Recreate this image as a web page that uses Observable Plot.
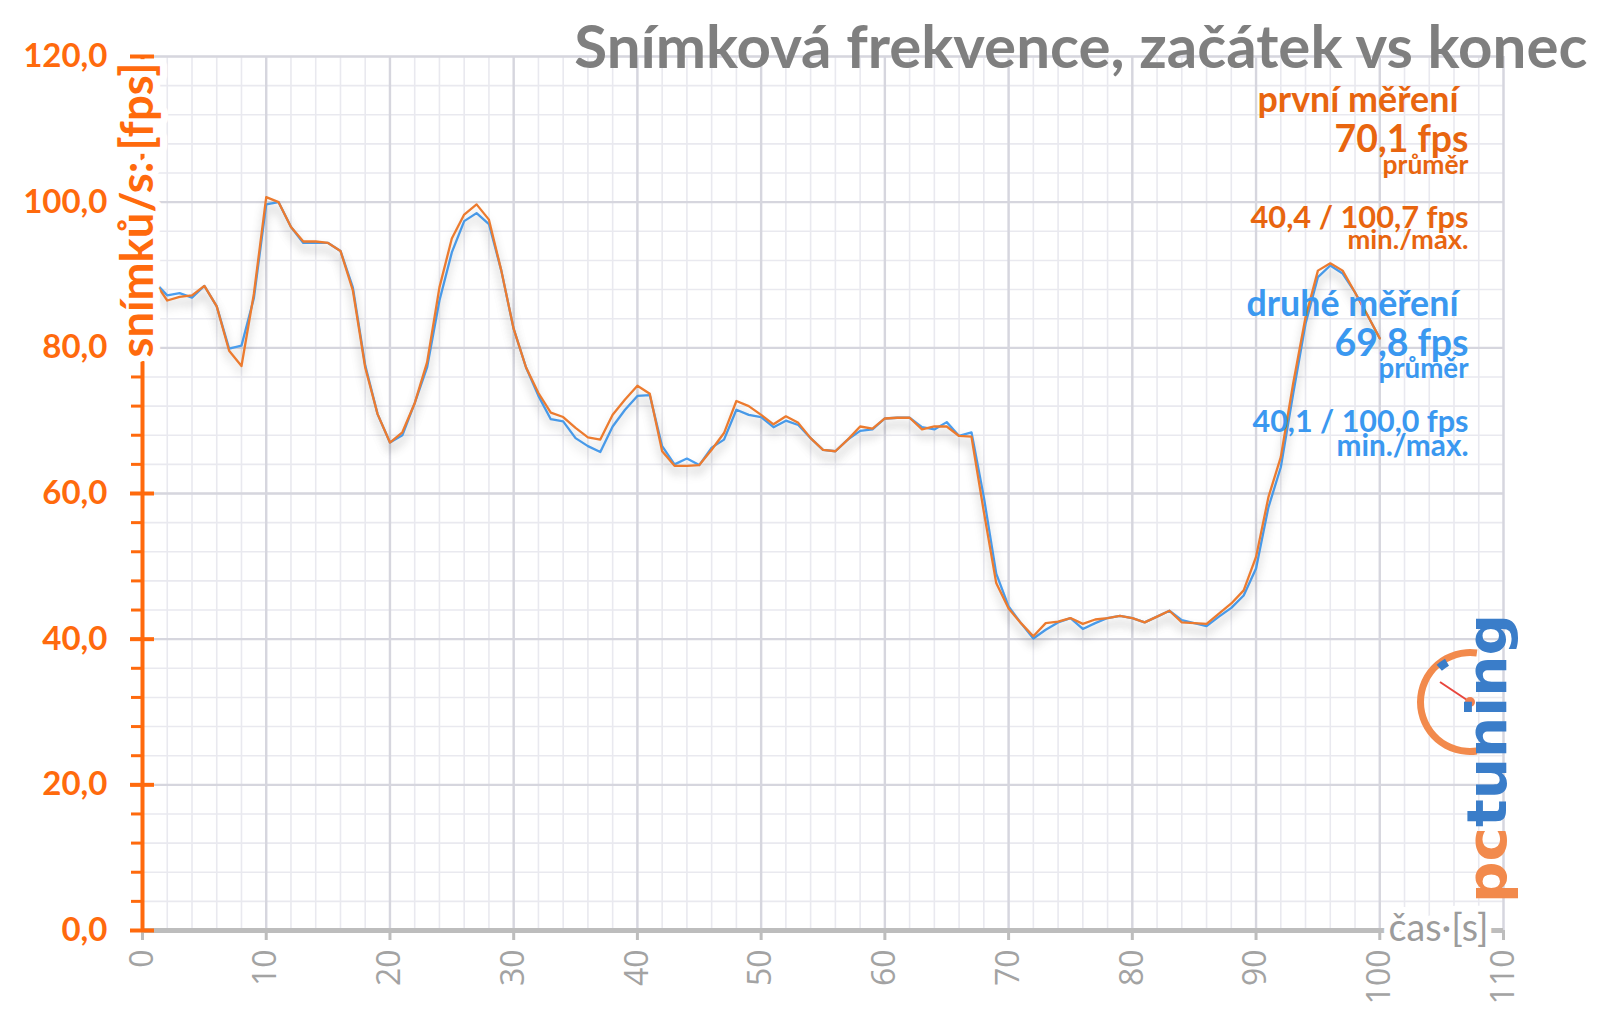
<!DOCTYPE html>
<html>
<head>
<meta charset="utf-8">
<script src="https://cdn.jsdelivr.net/npm/d3@7"></script>
<script src="https://cdn.jsdelivr.net/npm/@observablehq/plot@0.6"></script>
<style>
  html, body { margin: 0; padding: 0; background: #ffffff; }
  #chart svg { display: block; }
</style>
</head>
<body>
<div id="chart"></div>
<script>
// ---------- data ----------
const seconds = [1,2,3,4,5,6,7,8,9,10,11,12,13,14,15,16,17,18,19,20,
  21,22,23,24,25,26,27,28,29,30,31,32,33,34,35,36,37,38,39,40,
  41,42,43,44,45,46,47,48,49,50,51,52,53,54,55,56,57,58,59,60,
  61,62,63,64,65,66,67,68,69,70,71,72,73,74,75,76,77,78,79,80,
  81,82,83,84,85,86,87,88,89,90,91,92,93,94,95,96,97,98,99,100];

// první měření (orange)
const firstRun = [89.0,86.5,87.0,87.2,88.5,85.7,79.6,77.5,87.4,100.7,
  100.0,96.6,94.6,94.6,94.4,93.3,87.9,77.3,70.9,67.0,
  68.4,72.4,78.0,88.3,95.0,98.3,99.7,97.6,90.6,82.6,
  77.3,73.8,71.1,70.5,69.0,67.7,67.4,70.8,72.9,74.8,
  73.7,65.8,63.8,63.8,63.9,66.0,68.3,72.7,72.0,70.8,
  69.5,70.6,69.7,67.6,66.0,65.8,67.4,69.2,68.9,70.3,
  70.4,70.4,68.8,69.2,69.2,67.9,67.8,57.5,47.7,44.2,
  42.2,40.4,42.2,42.4,42.9,42.1,42.7,42.9,43.2,42.9,
  42.3,43.1,43.9,42.3,42.2,42.1,43.5,44.9,46.7,51.3,
  59.5,65.0,75.1,84.2,90.6,91.6,90.6,87.6,84.5,81.3];

// druhé měření (blue)
const secondRun = [89.0,87.2,87.5,86.9,88.5,85.7,79.9,80.3,86.8,99.7,
  100.0,96.6,94.4,94.4,94.4,93.3,88.3,77.6,70.9,67.0,
  68.0,72.4,77.3,86.5,93.1,97.4,98.5,97.0,90.6,82.6,
  77.3,73.4,70.2,69.9,67.6,66.5,65.7,69.2,71.5,73.4,
  73.5,66.5,64.0,64.8,63.9,66.3,67.4,71.5,70.8,70.5,
  69.1,70.0,69.4,67.6,66.0,65.8,67.4,68.6,68.8,70.3,
  70.4,70.4,69.1,68.8,69.8,67.9,68.4,59.5,49.0,44.5,
  42.2,40.1,41.3,42.3,42.9,41.4,42.2,42.9,43.2,42.9,
  42.3,43.1,43.9,42.6,42.2,41.8,43.1,44.3,46.0,49.7,
  58.1,63.6,73.7,83.3,89.7,91.3,90.2,87.6,84.5,81.3];

const xMajorTicks = [0,10,20,30,40,50,60,70,80,90,100,110];
const xMinorTicks = [0,2,4,6,8,10,12,14,16,18,20,22,24,26,28,30,32,34,36,38,40,42,44,46,48,50,
  52,54,56,58,60,62,64,66,68,70,72,74,76,78,80,82,84,86,88,90,92,94,96,98,100,102,104,106,108,110];
const yMajorTicks = [0,20,40,60,80,100,120];
const yMinorTicks = [0,4,8,12,16,20,24,28,32,36,40,44,48,52,56,60,64,68,72,76,80,84,88,92,96,100,104,108,112,116,120];

const chartTitle = "Snímková frekvence, začátek vs konec";
const yTitle = "snímků/s: [fps]";
const xTitle = "čas·[s]";
const legendFirst = ["první měření", "70,1 fps", "průměr", "40,4 / 100,7 fps", "min./max."];
const legendSecond = ["druhé měření", "69,8 fps", "průměr", "40,1 / 100,0 fps", "min./max."];
const logoParts = ["pc", "tuning"];

// ---------- styling ----------
const ORANGE_AXIS = "#ff6a0d";
const ORANGE_TEXT = "#e8650f";
const BLUE_TEXT = "#3a98f0";
const ORANGE_LINE = "#ec7b2f";
const BLUE_LINE = "#4b9ff0";
const FONT = "Lato, 'Open Sans', sans-serif";

const rowsFirst = seconds.map((t, i) => ({t, v: firstRun[i]}));
const rowsSecond = seconds.map((t, i) => ({t, v: secondRun[i]}));
const fmtY = d => d.toFixed(1).replace(".", ",");

// legend layout (baseline offsets below frame top, sizes)
const legendLayout = [
  {size: 32, base: 111, shift: -10},
  {size: 40, base: 151, shift: 0},
  {size: 27, base: 173, shift: 0},
  {size: 30, base: 227, shift: 0},
  {size: 27, base: 248, shift: 0}
];
const secondBases = [315, 355, 377, 431, 455];
const MT = 56, RIGHT = 1503;

function legendMarks(lines, color, bases) {
  return lines.map((s, i) => Plot.text([s], {
    text: d => d,
    frameAnchor: "top-right",
    textAnchor: "end",
    lineAnchor: "bottom",
    dx: (1468 - RIGHT) + legendLayout[i].shift,
    dy: bases[i] - MT,
    fontSize: legendLayout[i].size,
    fontWeight: "bold",
    fontFamily: FONT,
    fill: color
  }));
}

const chart = Plot.plot({
  width: 1600,
  height: 1015,
  marginLeft: 142,
  marginRight: 97,
  marginTop: 56,
  marginBottom: 85,
  style: {fontFamily: FONT, background: "#ffffff", overflow: "visible"},
  x: {domain: [0, 110], label: null},
  y: {domain: [0, 120], label: null},
  marks: [
    Plot.gridX({ticks: xMinorTicks, stroke: "#e9e9ef", strokeOpacity: 1, strokeWidth: 1.6}),
    Plot.gridY({ticks: yMinorTicks, stroke: "#e9e9ef", strokeOpacity: 1, strokeWidth: 1.6}),
    Plot.gridX({ticks: xMajorTicks, stroke: "#d6d6de", strokeOpacity: 1, strokeWidth: 2.4}),
    Plot.gridY({ticks: yMajorTicks, stroke: "#d6d6de", strokeOpacity: 1, strokeWidth: 2.4}),
    Plot.line(rowsSecond, {x: "t", y: "v", stroke: BLUE_LINE, strokeWidth: 2.3}),
    Plot.line(rowsFirst, {x: "t", y: "v", stroke: ORANGE_LINE, strokeWidth: 2.3}),
    Plot.ruleY([0], {stroke: "#bdbdbd", strokeWidth: 5}),
    Plot.axisX({ticks: xMajorTicks, tickSize: 10, tickPadding: 9, tickRotate: -90,
      fontSize: 32, fontFamily: "'Open Sans', sans-serif", fill: "#a3a3a3",
      stroke: "#bdbdbd", strokeWidth: 3, label: null}),
    Plot.axisY({ticks: yMinorTicks, tickSize: 11, tickFormat: () => "", stroke: ORANGE_AXIS, strokeWidth: 3, label: null}),
    Plot.axisY({ticks: yMajorTicks, tickSize: 24, dx: 12, tickFormat: () => "", stroke: ORANGE_AXIS, strokeWidth: 4, label: null}),
    Plot.ruleX([0], {stroke: ORANGE_AXIS, strokeWidth: 4}),
    Plot.axisY({ticks: yMajorTicks, tickSize: 0, tickPadding: 35, tickFormat: fmtY,
      fontSize: 33, fontWeight: "bold", fontFamily: FONT, fill: ORANGE_AXIS, label: null}),
    Plot.text([yTitle], {text: d => d, frameAnchor: "top-left", rotate: -90,
      textAnchor: "end", lineAnchor: "bottom", dx: 10, dy: 6,
      fontSize: 36, fontWeight: "bold", fontFamily: FONT, fill: ORANGE_AXIS,
      stroke: "#ffffff", strokeWidth: 14, strokeLinejoin: "round", paintOrder: "stroke"}),
    Plot.text([xTitle], {text: d => d, frameAnchor: "bottom-right",
      textAnchor: "end", lineAnchor: "middle", dx: -15, dy: -2,
      fontSize: 34, fontFamily: FONT, fill: "#9c9c9c",
      stroke: "#ffffff", strokeWidth: 12, strokeLinejoin: "round", paintOrder: "stroke"}),
    Plot.text([chartTitle], {text: d => d, frameAnchor: "top-right",
      textAnchor: "end", lineAnchor: "bottom", dx: 84, dy: 11,
      fontSize: 54, fontWeight: "bold", fontFamily: FONT, fill: "#7f7f7f"}),
    ...legendMarks(legendFirst, ORANGE_TEXT, legendLayout.map(d => d.base)),
    ...legendMarks(legendSecond, BLUE_TEXT, secondBases)
  ]
});

document.getElementById("chart").appendChild(chart);

// soft shadow under the series lines
d3.select(chart).selectAll('g[aria-label="line"]')
  .style("filter", "drop-shadow(0px 7px 5px rgba(0,0,0,0.18))");

// ---------- logo (watermark) ----------
const logo = d3.select(chart).append("g").attr("aria-label", "logo");
const cx = 1470, cy = 702;
logo.append("path")
  .attr("transform", `translate(${cx},${cy})`)
  .attr("d", d3.arc()({innerRadius: 46, outerRadius: 53, startAngle: 172 * Math.PI / 180, endAngle: 368 * Math.PI / 180}))
  .attr("fill", "#f28a4c");
logo.append("path")
  .attr("transform", `translate(${cx},${cy})`)
  .attr("d", d3.arc()({innerRadius: 42, outerRadius: 50, startAngle: 318 * Math.PI / 180, endAngle: 330 * Math.PI / 180, cornerRadius: 2}))
  .attr("fill", "#3a7dc9");
logo.append("line")
  .attr("x1", cx).attr("y1", cy).attr("x2", cx - 30).attr("y2", cy - 20)
  .attr("stroke", "#e8453c").attr("stroke-width", 2);
logo.append("circle").attr("cx", cx).attr("cy", cy).attr("r", 5).attr("fill", "#f08050");
const logoText = logo.append("text")
  .attr("transform", "translate(1506,903) rotate(-90)")
  .attr("text-anchor", "start")
  .attr("font-family", "'DejaVu Sans', sans-serif")
  .attr("font-weight", "bold")
  .attr("font-size", 56)
  .attr("textLength", 289)
  .attr("lengthAdjust", "spacingAndGlyphs");
logoText.append("tspan").attr("fill", "#f28a4c").text(logoParts[0]);
logoText.append("tspan").attr("fill", "#3a7dc9").text(logoParts[1]);

// ---------- fit text widths ----------
const fitTargets = new Map([
  [chartTitle, [1013]],
  [yTitle, [295]],
  [xTitle, [100]],
  ["první měření", [201]],
  ["70,1 fps", [134]],
  ["průměr", [86, 90]],
  ["40,4 / 100,7 fps", [218]],
  ["min./max.", [121, 132]],
  ["druhé měření", [212]],
  ["69,8 fps", [134]],
  ["40,1 / 100,0 fps", [216]]
]);
function fitTexts() {
  const seen = new Map();
  for (const el of chart.querySelectorAll("text")) {
    const s = el.textContent;
    if (!fitTargets.has(s)) continue;
    const k = seen.get(s) || 0; seen.set(s, k + 1);
    const target = fitTargets.get(s)[k];
    if (!target) continue;
    const fs = parseFloat(getComputedStyle(el).fontSize);
    const len = el.getComputedTextLength();
    if (len > 0) el.setAttribute("font-size", (fs * target / len).toFixed(2));
  }
}
fitTexts();
if (document.fonts && document.fonts.ready) document.fonts.ready.then(fitTexts);
</script>
</body>
</html>
